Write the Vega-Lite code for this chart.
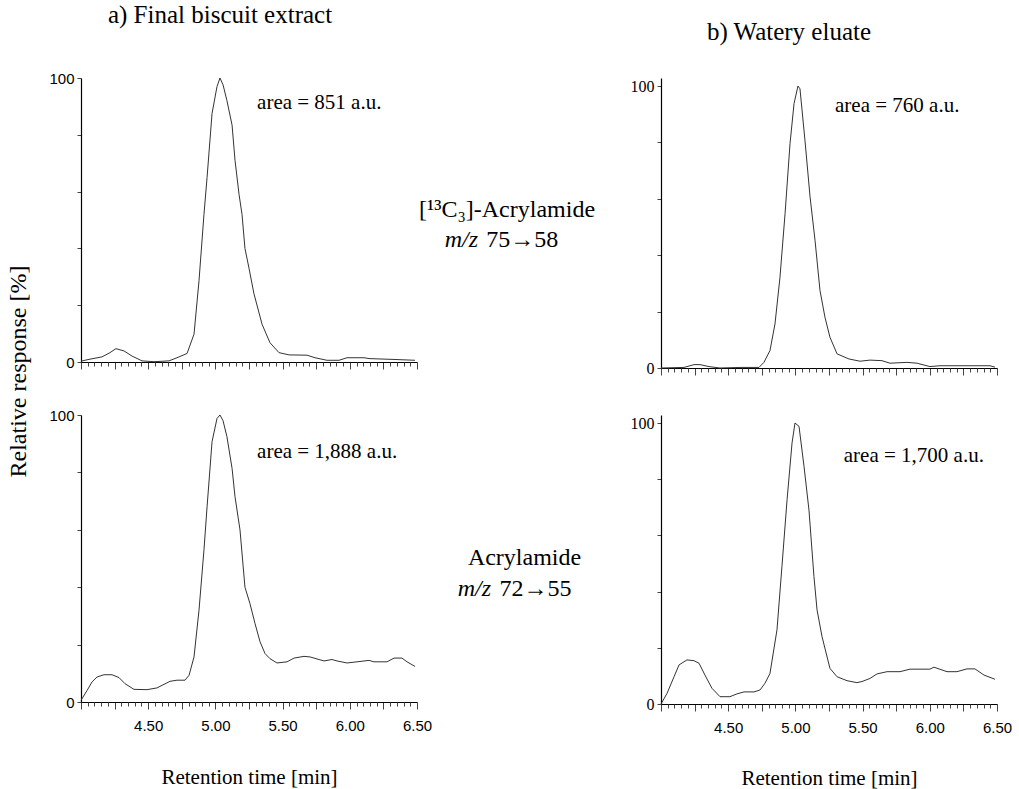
{
  "$schema": "https://vega.github.io/schema/vega-lite/v6.json",
  "autosize": {"type": "pad"},
  "padding": {"left": 6, "top": 3, "right": 10, "bottom": 6},
  "background": "white",
  "config": {
    "view": {"stroke": null},
    "font": "Liberation Serif",
    "axis": {"grid": false, "domainColor": "#000", "domainWidth": 1.2, "tickColor": "#444", "labelFont": "Liberation Sans", "labelFontSize": 15, "labelColor": "#000", "titleFont": "Liberation Serif", "titleFontWeight": "normal", "titleFontSize": 21, "titleColor": "#000"},
    "title": {"font": "Liberation Serif", "fontWeight": "normal", "fontSize": 25, "color": "#000", "baseline": "alphabetic"},
    "text": {"font": "Liberation Serif", "color": "#000"},
    "line": {"stroke": "#333", "strokeWidth": 1}
  },
  "datasets": {
    "tl": [
      {"t":4.000,"r":0.3},{"t":4.067,"r":1.0},{"t":4.156,"r":1.8},{"t":4.216,"r":3.3},{"t":4.260,"r":4.7},{"t":4.320,"r":3.9},{"t":4.379,"r":2.1},{"t":4.454,"r":0.4},{"t":4.543,"r":0.1},{"t":4.655,"r":0.4},{"t":4.714,"r":1.5},{"t":4.789,"r":3.0},{"t":4.841,"r":9.8},{"t":4.878,"r":28.6},{"t":4.915,"r":52},{"t":4.938,"r":65},{"t":4.975,"r":87.5},{"t":5.012,"r":97},{"t":5.034,"r":100},{"t":5.057,"r":97.6},{"t":5.086,"r":92},{"t":5.124,"r":83.4},{"t":5.146,"r":71},{"t":5.176,"r":59},{"t":5.198,"r":52},{"t":5.220,"r":40},{"t":5.250,"r":33},{"t":5.287,"r":24},{"t":5.347,"r":13.3},{"t":5.406,"r":6.8},{"t":5.473,"r":3.3},{"t":5.548,"r":2.5},{"t":5.682,"r":2.4},{"t":5.741,"r":1.5},{"t":5.830,"r":0.6},{"t":5.920,"r":0.6},{"t":5.979,"r":1.5},{"t":6.106,"r":1.5},{"t":6.143,"r":1.2},{"t":6.329,"r":0.9},{"t":6.485,"r":0.6}
    ],
    "bl": [
      {"t":4.000,"r":0.6},{"t":4.045,"r":4},{"t":4.082,"r":7},{"t":4.119,"r":8.7},{"t":4.171,"r":9.5},{"t":4.231,"r":9.5},{"t":4.283,"r":8.5},{"t":4.327,"r":6.4},{"t":4.394,"r":4.4},{"t":4.491,"r":4.3},{"t":4.565,"r":4.9},{"t":4.603,"r":5.8},{"t":4.662,"r":7.2},{"t":4.714,"r":7.6},{"t":4.774,"r":7.6},{"t":4.804,"r":9.3},{"t":4.841,"r":15.7},{"t":4.878,"r":32},{"t":4.915,"r":53},{"t":4.938,"r":68},{"t":4.975,"r":90.7},{"t":5.012,"r":98.8},{"t":5.034,"r":100},{"t":5.057,"r":98},{"t":5.086,"r":92.4},{"t":5.124,"r":81.4},{"t":5.146,"r":71.5},{"t":5.183,"r":60},{"t":5.220,"r":40},{"t":5.257,"r":34.3},{"t":5.295,"r":27.3},{"t":5.332,"r":21},{"t":5.369,"r":16.9},{"t":5.406,"r":15.1},{"t":5.458,"r":13.6},{"t":5.533,"r":14},{"t":5.585,"r":15.3},{"t":5.659,"r":15.9},{"t":5.704,"r":15.7},{"t":5.808,"r":14.3},{"t":5.868,"r":14.8},{"t":5.905,"r":14.3},{"t":5.979,"r":13.6},{"t":6.054,"r":14},{"t":6.143,"r":14.5},{"t":6.180,"r":14},{"t":6.277,"r":14},{"t":6.329,"r":15.3},{"t":6.388,"r":15.3},{"t":6.426,"r":14},{"t":6.485,"r":12.4}
    ],
    "tr": [
      {"t":4.000,"r":0},{"t":4.171,"r":0.2},{"t":4.246,"r":1.2},{"t":4.290,"r":1.2},{"t":4.357,"r":0.5},{"t":4.439,"r":0},{"t":4.588,"r":0.2},{"t":4.729,"r":0.2},{"t":4.766,"r":2},{"t":4.811,"r":6.2},{"t":4.848,"r":15.6},{"t":4.885,"r":32},{"t":4.923,"r":54.7},{"t":4.960,"r":79.6},{"t":4.990,"r":93.8},{"t":5.019,"r":100},{"t":5.034,"r":99},{"t":5.071,"r":80.8},{"t":5.109,"r":60.7},{"t":5.146,"r":45.3},{"t":5.183,"r":27.5},{"t":5.220,"r":18},{"t":5.257,"r":10.9},{"t":5.310,"r":5},{"t":5.399,"r":3.2},{"t":5.481,"r":2.4},{"t":5.555,"r":2.8},{"t":5.644,"r":2.6},{"t":5.704,"r":1.7},{"t":5.830,"r":2},{"t":5.905,"r":1.7},{"t":6.001,"r":0.5},{"t":6.076,"r":0.8},{"t":6.329,"r":0.8},{"t":6.448,"r":0.8},{"t":6.485,"r":0.3}
    ],
    "br": [
      {"t":4.000,"r":0},{"t":4.045,"r":3.8},{"t":4.097,"r":9.7},{"t":4.134,"r":13.9},{"t":4.193,"r":15.7},{"t":4.246,"r":15.4},{"t":4.283,"r":14.5},{"t":4.327,"r":10.3},{"t":4.379,"r":5.6},{"t":4.439,"r":2.6},{"t":4.513,"r":2.6},{"t":4.565,"r":3.6},{"t":4.618,"r":4.3},{"t":4.692,"r":4.3},{"t":4.737,"r":5},{"t":4.774,"r":7.4},{"t":4.811,"r":10.9},{"t":4.863,"r":26.4},{"t":4.900,"r":49},{"t":4.938,"r":72.7},{"t":4.975,"r":92.9},{"t":4.997,"r":100},{"t":5.027,"r":98.8},{"t":5.064,"r":84.6},{"t":5.101,"r":69},{"t":5.138,"r":45.4},{"t":5.161,"r":33.5},{"t":5.198,"r":24},{"t":5.257,"r":12.7},{"t":5.310,"r":9.7},{"t":5.384,"r":8.3},{"t":5.458,"r":7.6},{"t":5.496,"r":8},{"t":5.555,"r":9.1},{"t":5.607,"r":10.7},{"t":5.682,"r":11.5},{"t":5.778,"r":11.5},{"t":5.853,"r":12.4},{"t":6.001,"r":12.4},{"t":6.031,"r":13.1},{"t":6.128,"r":11.5},{"t":6.202,"r":11.5},{"t":6.277,"r":12.5},{"t":6.336,"r":12.5},{"t":6.403,"r":10.3},{"t":6.485,"r":8.8}
    ]
  },
  "bounds": "flush",
  "columns": 2,
  "spacing": {"row": 47, "column": 244},
  "concat": [
    {
      "width": 336, "height": 284,
      "title": {"text": "a) Final biscuit extract", "anchor": "middle", "offset": 43, "dx": -29},
      "resolve": {"axis": {"x": "independent"}},
      "layer": [
        {
          "data": {"name": "tl"},
          "mark": {"type": "line"},
          "encoding": {
            "x": {"field": "t", "type": "quantitative", "scale": {"domain": [4, 6.5], "nice": false, "zero": false},
              "axis": {"orient": "bottom", "title": null, "labels": false, "values": [4,4.25,4.5,4.75,5,5.25,5.5,5.75,6,6.25,6.5], "tickSize": 7}},
            "y": {"field": "r", "type": "quantitative", "scale": {"domain": [0, 100], "nice": false},
              "axis": {"title": "Relative  response [%]", "titleFontSize": 24, "titleX": -63, "titleY": 293, "titleAngle": -90, "titleBaseline": "middle", "titleAlign": "center",
                "values": [0,10,20,30,40,50,60,70,80,90,100], "labelExpr": "datum.value == 0 || datum.value == 100 ? datum.label : ''", "tickSize": 4, "labelPadding": 3}}
          }
        },
        {
          "data": {"name": "tl"},
          "mark": {"type": "line", "strokeOpacity": 0},
          "encoding": {
            "x": {"field": "t", "type": "quantitative",
              "axis": {"orient": "bottom", "title": null, "labels": false, "domain": false, "tickSize": 4, "values": [4.05,4.1,4.15,4.2,4.3,4.35,4.4,4.45,4.55,4.6,4.65,4.7,4.8,4.85,4.9,4.95,5.05,5.1,5.15,5.2,5.3,5.35,5.4,5.45,5.55,5.6,5.65,5.7,5.8,5.85,5.9,5.95,6.05,6.1,6.15,6.2,6.3,6.35,6.4,6.45]}},
            "y": {"field": "r", "type": "quantitative"}
          }
        },
        {
          "data": {"values": [{"txt": "area = 851 a.u."}]},
          "mark": {"type": "text", "fontSize": 21, "align": "left", "baseline": "middle"},
          "encoding": {"text": {"field": "txt"}, "x": {"datum": 5.31, "axis": null}, "y": {"datum": 91.2}}
        },
        {
          "data": {"values": [{"txt": "[¹³C₃]-Acrylamide"}]},
          "mark": {"type": "text", "fontSize": 24, "align": "center", "baseline": "middle"},
          "encoding": {"text": {"field": "txt"}, "x": {"datum": 7.17, "axis": null}, "y": {"datum": 53.5}}
        },
        {
          "data": {"values": [{"txt": "m/z"}]},
          "mark": {"type": "text", "fontSize": 24, "fontStyle": "italic", "align": "right", "baseline": "middle"},
          "encoding": {"text": {"field": "txt"}, "x": {"datum": 6.954, "axis": null}, "y": {"datum": 43}}
        },
        {
          "data": {"values": [{"txt": "75→58"}]},
          "mark": {"type": "text", "fontSize": 24, "align": "left", "baseline": "middle"},
          "encoding": {"text": {"field": "txt"}, "x": {"datum": 7.016, "axis": null}, "y": {"datum": 43}}
        }
      ]
    },
    {
      "width": 336, "height": 290,
      "title": {"text": "b) Watery eluate", "anchor": "middle", "offset": 33, "dx": -40},
      "resolve": {"axis": {"x": "independent"}},
      "layer": [
        {
          "data": {"name": "tr"},
          "mark": {"type": "line"},
          "encoding": {
            "x": {"field": "t", "type": "quantitative", "scale": {"domain": [4, 6.5], "nice": false, "zero": false},
              "axis": {"orient": "bottom", "title": null, "labels": false, "values": [4,4.25,4.5,4.75,5,5.25,5.5,5.75,6,6.25,6.5], "tickSize": 7}},
            "y": {"field": "r", "type": "quantitative", "scale": {"domain": [0, 102.84], "nice": false},
              "axis": {"title": null, "values": [0,10,20,30,40,50,60,70,80,90,100], "labelExpr": "datum.value == 0 || datum.value == 100 ? datum.label : ''", "tickSize": 4, "labelPadding": 3, "labelFont": "Liberation Serif", "labelFontSize": 16}}
          }
        },
        {
          "data": {"name": "tr"},
          "mark": {"type": "line", "strokeOpacity": 0},
          "encoding": {
            "x": {"field": "t", "type": "quantitative",
              "axis": {"orient": "bottom", "title": null, "labels": false, "domain": false, "tickSize": 4, "values": [4.05,4.1,4.15,4.2,4.3,4.35,4.4,4.45,4.55,4.6,4.65,4.7,4.8,4.85,4.9,4.95,5.05,5.1,5.15,5.2,5.3,5.35,5.4,5.45,5.55,5.6,5.65,5.7,5.8,5.85,5.9,5.95,6.05,6.1,6.15,6.2,6.3,6.35,6.4,6.45]}},
            "y": {"field": "r", "type": "quantitative"}
          }
        },
        {
          "data": {"values": [{"txt": "area = 760 a.u."}]},
          "mark": {"type": "text", "fontSize": 21, "align": "left", "baseline": "middle"},
          "encoding": {"text": {"field": "txt"}, "x": {"datum": 5.295, "axis": null}, "y": {"datum": 92.9}}
        }
      ]
    },
    {
      "width": 336, "height": 287,
      "resolve": {"axis": {"x": "independent"}},
      "layer": [
        {
          "data": {"name": "bl"},
          "mark": {"type": "line"},
          "encoding": {
            "x": {"field": "t", "type": "quantitative", "scale": {"domain": [4, 6.5], "nice": false, "zero": false},
              "axis": {"orient": "bottom", "title": "Retention time [min]", "titleY": 75, "titleBaseline": "middle", "labelFlush": false, "labelPadding": 9,
                "values": [4,4.25,4.5,4.75,5,5.25,5.5,5.75,6,6.25,6.5], "tickSize": 7,
                "labelExpr": "abs(datum.value*2 - round(datum.value*2)) < 0.001 && datum.value > 4.2 ? format(datum.value, '.2f') : ''"}},
            "y": {"field": "r", "type": "quantitative", "scale": {"domain": [0, 100], "nice": false},
              "axis": {"title": null, "values": [0,10,20,30,40,50,60,70,80,90,100], "labelExpr": "datum.value == 0 || datum.value == 100 ? datum.label : ''", "tickSize": 4, "labelPadding": 3}}
          }
        },
        {
          "data": {"name": "bl"},
          "mark": {"type": "line", "strokeOpacity": 0},
          "encoding": {
            "x": {"field": "t", "type": "quantitative",
              "axis": {"orient": "bottom", "title": null, "labels": false, "domain": false, "tickSize": 4, "values": [4.05,4.1,4.15,4.2,4.3,4.35,4.4,4.45,4.55,4.6,4.65,4.7,4.8,4.85,4.9,4.95,5.05,5.1,5.15,5.2,5.3,5.35,5.4,5.45,5.55,5.6,5.65,5.7,5.8,5.85,5.9,5.95,6.05,6.1,6.15,6.2,6.3,6.35,6.4,6.45]}},
            "y": {"field": "r", "type": "quantitative"}
          }
        },
        {
          "data": {"values": [{"txt": "area = 1,888 a.u."}]},
          "mark": {"type": "text", "fontSize": 21, "align": "left", "baseline": "middle"},
          "encoding": {"text": {"field": "txt"}, "x": {"datum": 5.31, "axis": null}, "y": {"datum": 87.1}}
        },
        {
          "data": {"values": [{"txt": "Acrylamide"}]},
          "mark": {"type": "text", "fontSize": 24, "align": "center", "baseline": "middle"},
          "encoding": {"text": {"field": "txt"}, "x": {"datum": 7.30, "axis": null}, "y": {"datum": 50.2}}
        },
        {
          "data": {"values": [{"txt": "m/z"}]},
          "mark": {"type": "text", "fontSize": 24, "fontStyle": "italic", "align": "right", "baseline": "middle"},
          "encoding": {"text": {"field": "txt"}, "x": {"datum": 7.051, "axis": null}, "y": {"datum": 39.4}}
        },
        {
          "data": {"values": [{"txt": "72→55"}]},
          "mark": {"type": "text", "fontSize": 24, "align": "left", "baseline": "middle"},
          "encoding": {"text": {"field": "txt"}, "x": {"datum": 7.113, "axis": null}, "y": {"datum": 39.4}}
        }
      ]
    },
    {
      "width": 336, "height": 289,
      "resolve": {"axis": {"x": "independent"}},
      "layer": [
        {
          "data": {"name": "br"},
          "mark": {"type": "line"},
          "encoding": {
            "x": {"field": "t", "type": "quantitative", "scale": {"domain": [4, 6.5], "nice": false, "zero": false},
              "axis": {"orient": "bottom", "title": "Retention time [min]", "titleY": 74, "titleBaseline": "middle", "labelFlush": false, "labelPadding": 9,
                "values": [4,4.25,4.5,4.75,5,5.25,5.5,5.75,6,6.25,6.5], "tickSize": 7,
                "labelExpr": "abs(datum.value*2 - round(datum.value*2)) < 0.001 && datum.value > 4.2 ? format(datum.value, '.2f') : ''"}},
            "y": {"field": "r", "type": "quantitative", "scale": {"domain": [0, 102.85], "nice": false},
              "axis": {"title": null, "values": [0,10,20,30,40,50,60,70,80,90,100], "labelExpr": "datum.value == 0 || datum.value == 100 ? datum.label : ''", "tickSize": 4, "labelPadding": 3, "labelFont": "Liberation Serif", "labelFontSize": 16}}
          }
        },
        {
          "data": {"name": "br"},
          "mark": {"type": "line", "strokeOpacity": 0},
          "encoding": {
            "x": {"field": "t", "type": "quantitative",
              "axis": {"orient": "bottom", "title": null, "labels": false, "domain": false, "tickSize": 4, "values": [4.05,4.1,4.15,4.2,4.3,4.35,4.4,4.45,4.55,4.6,4.65,4.7,4.8,4.85,4.9,4.95,5.05,5.1,5.15,5.2,5.3,5.35,5.4,5.45,5.55,5.6,5.65,5.7,5.8,5.85,5.9,5.95,6.05,6.1,6.15,6.2,6.3,6.35,6.4,6.45]}},
            "y": {"field": "r", "type": "quantitative"}
          }
        },
        {
          "data": {"values": [{"txt": "area = 1,700 a.u."}]},
          "mark": {"type": "text", "fontSize": 21, "align": "left", "baseline": "middle"},
          "encoding": {"text": {"field": "txt"}, "x": {"datum": 5.36, "axis": null}, "y": {"datum": 88.3}}
        }
      ]
    }
  ]
}
